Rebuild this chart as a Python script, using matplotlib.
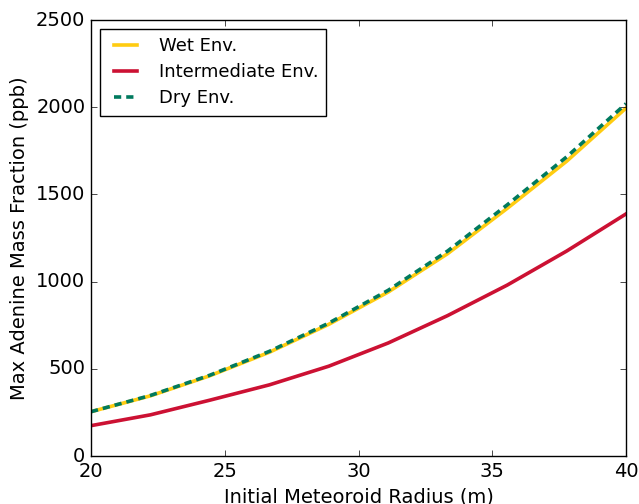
import matplotlib
matplotlib.use("Agg")
import matplotlib.pyplot as plt

plt.style.use("classic")
plt.rcParams["font.family"] = ["DejaVu Sans"]

# Initial meteoroid radius (m)
radius = [20.0, 22.22, 24.44, 26.67, 28.89, 31.11, 33.33, 35.56, 37.78, 40.0]

# Max adenine mass fraction (ppb) per environment
wet_env = [254, 345, 460, 595, 755, 940, 1160, 1420, 1690, 1995]
intermediate_env = [174, 236, 320, 408, 515, 648, 805, 980, 1175, 1388]
dry_env = [254, 347, 463, 600, 762, 950, 1175, 1440, 1715, 2020]

series_labels = ["Wet Env.", "Intermediate Env.", "Dry Env."]

fig = plt.figure(figsize=(6.39, 5.04), dpi=100, facecolor="white")
ax = fig.add_axes([91 / 639, 1 - 456 / 504, (626 - 91) / 639, (456 - 20) / 504])

ax.plot(radius, wet_env, color="#FFCC11", lw=2.6, label=series_labels[0])
ax.plot(radius, intermediate_env, color="#CC1133", lw=2.6, label=series_labels[1])
ax.plot(radius, dry_env, color="#007A5E", lw=2.6, ls=(0, (5.2, 3.6)),
        label=series_labels[2])

ax.set_xlim(20, 40)
ax.set_ylim(0, 2500)
ax.set_xticks([20, 25, 30, 35, 40])
ax.set_yticks([0, 500, 1000, 1500, 2000, 2500])
ax.tick_params(labelsize=14, direction="in", top=True, right=True)
ax.set_xlabel("Initial Meteoroid Radius (m)", fontsize=14)
ax.set_ylabel("Max Adenine Mass Fraction (ppb)", fontsize=14)

leg = ax.legend(loc="upper left", fontsize=13, fancybox=False, frameon=True,
                handlelength=1.9, handletextpad=0.9, borderpad=0.45,
                labelspacing=0.45)
leg.get_frame().set_edgecolor("black")

fig.savefig("out.png", dpi=100, facecolor="white")
